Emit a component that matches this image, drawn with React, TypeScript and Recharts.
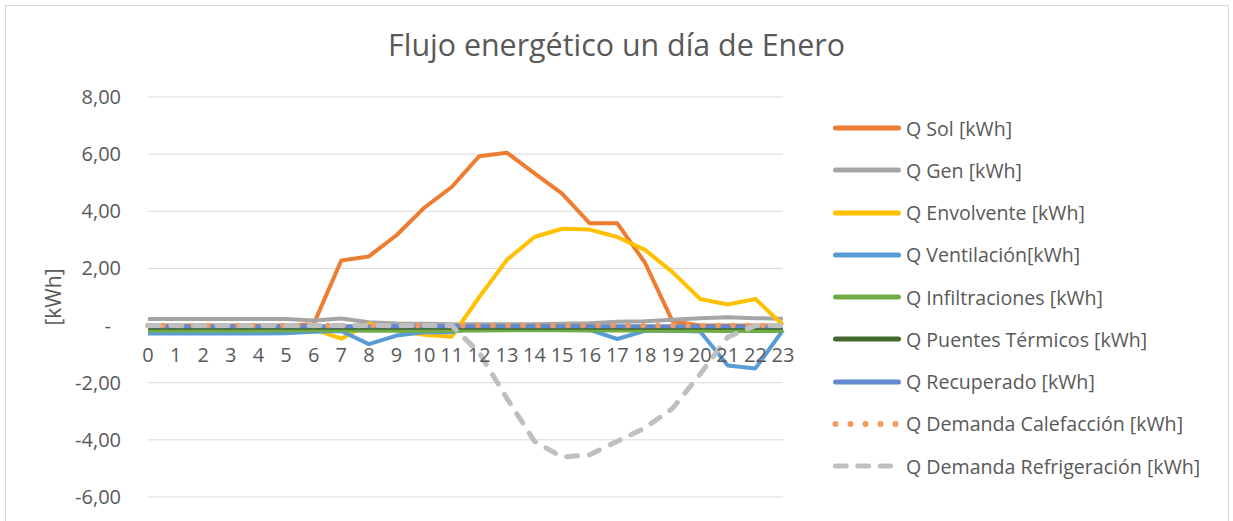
import { LineChart, Line, XAxis, YAxis, CartesianGrid, Legend } from "recharts";

const hours = ["0", "1", "2", "3", "4", "5", "6", "7", "8", "9", "10", "11", "12", "13", "14", "15", "16", "17", "18", "19", "20", "21", "22", "23"];

const qSol = [0, 0, 0, 0, 0, 0, 0.05, 2.28, 2.42, 3.16, 4.12, 4.85, 5.93, 6.05, 5.33, 4.62, 3.58, 3.58, 2.2, 0.15, 0, 0, 0, 0];
const qGen = [0.23, 0.23, 0.23, 0.23, 0.23, 0.23, 0.18, 0.25, 0.12, 0.07, 0.06, 0.05, 0.05, 0.05, 0.05, 0.06, 0.08, 0.13, 0.15, 0.2, 0.26, 0.29, 0.26, 0.24];
const qEnvolvente = [-0.1, -0.1, -0.1, -0.1, -0.1, -0.1, -0.12, -0.46, 0.07, -0.17, -0.32, -0.39, 1.0, 2.3, 3.1, 3.39, 3.36, 3.1, 2.65, 1.87, 0.93, 0.74, 0.93, 0.02];
const qVentilacion = [-0.28, -0.28, -0.28, -0.28, -0.28, -0.27, -0.22, -0.19, -0.65, -0.35, -0.23, -0.23, -0.06, -0.03, -0.03, -0.04, -0.15, -0.47, -0.18, -0.18, -0.21, -1.4, -1.5, -0.16];
const qInfiltraciones = [-0.17, -0.17, -0.17, -0.17, -0.17, -0.17, -0.16, -0.16, -0.18, -0.18, -0.18, -0.18, -0.17, -0.16, -0.16, -0.16, -0.17, -0.17, -0.17, -0.18, -0.18, -0.19, -0.19, -0.19];
const qPuentes = [-0.08, -0.08, -0.08, -0.08, -0.08, -0.08, -0.08, -0.08, -0.08, -0.08, -0.08, -0.08, -0.08, -0.08, -0.08, -0.08, -0.08, -0.08, -0.08, -0.08, -0.08, -0.08, -0.08, -0.08];
const qRecuperado = [-0.02, -0.02, -0.02, -0.02, -0.02, -0.02, -0.02, -0.02, -0.02, -0.02, -0.02, -0.02, -0.02, -0.02, -0.02, -0.02, -0.02, -0.02, -0.02, -0.02, -0.02, -0.02, -0.02, -0.02];
const qCalefaccion = [0, 0, 0, 0, 0, 0, 0, 0, 0, 0, 0, 0, 0, 0, 0, 0, 0, 0, 0, 0, 0, 0, 0, 0];
const qRefrigeracion = [0, 0, 0, 0, 0, 0, 0, 0, 0, 0, 0, 0, -0.95, -2.55, -4.05, -4.6, -4.52, -4.05, -3.58, -2.9, -1.7, -0.4, 0, 0];

const yTicks = [-6, -4, -2, 0, 2, 4, 6, 8];
const Y_MIN = -6;
const Y_MAX = 8;

const series = [
  { key: "sol", name: "Q Sol [kWh]", color: "#ED7D31", values: qSol, style: "solid" },
  { key: "gen", name: "Q Gen [kWh]", color: "#A5A5A5", values: qGen, style: "solid" },
  { key: "env", name: "Q Envolvente [kWh]", color: "#FFC000", values: qEnvolvente, style: "solid" },
  { key: "vent", name: "Q Ventilación[kWh]", color: "#5B9BD5", values: qVentilacion, style: "solid" },
  { key: "inf", name: "Q Infiltraciones [kWh]", color: "#70AD47", values: qInfiltraciones, style: "solid" },
  { key: "pue", name: "Q Puentes Térmicos [kWh]", color: "#43682B", values: qPuentes, style: "solid" },
  { key: "rec", name: "Q Recuperado [kWh]", color: "#6289D0", values: qRecuperado, style: "solid" },
  { key: "cal", name: "Q Demanda Calefacción [kWh]", color: "#F39A5A", values: qCalefaccion, style: "dot" },
  { key: "ref", name: "Q Demanda Refrigeración [kWh]", color: "#BFBFBF", values: qRefrigeracion, style: "dash" },
];

const data = hours.map((h, i) => {
  const row: Record<string, string | number> = { hour: h };
  series.forEach((s) => (row[s.key] = s.values[i]));
  return row;
});

const W = 1233;
const H = 521;
const PLOT_TOP = 97;
const PLOT_BOTTOM = 497;
const PLOT_H = PLOT_BOTTOM - PLOT_TOP;
const FONT = "'Open Sans', sans-serif";
const TEXT = "#595959";

const fmt = (v: number) => (v === 0 ? "-" : v.toFixed(2).replace(".", ","));

const YTick = (props: any) => {
  const { x, y, payload } = props;
  const v = payload.value as number;
  return (
    <text x={v === 0 ? x - 10 : x} y={y} dy={7} textAnchor="end" fill={TEXT} fontSize={20} fontFamily={FONT}>
      {fmt(v)}
    </text>
  );
};

// labels sit just under the zero line, like Excel's axis crossing
const XTick = (props: any) => {
  const { x, y, payload } = props;
  const zeroY = y - ((0 - Y_MIN) / (Y_MAX - Y_MIN)) * PLOT_H;
  return (
    <text x={x} y={zeroY + 36} textAnchor="middle" fill={TEXT} fontSize={20} fontFamily={FONT}>
      {payload.value}
    </text>
  );
};

const LegendSample = ({ color, style }: { color: string; style: string }) => {
  if (style === "dot") {
    return (
      <svg width={77} height={10}>
        <line x1={6.5} y1={5} x2={67} y2={5} stroke={color} strokeWidth={6} strokeLinecap="round" strokeDasharray="0 15" />
      </svg>
    );
  }
  if (style === "dash") {
    return (
      <svg width={77} height={10}>
        <line x1={6.5} y1={5} x2={61.5} y2={5} stroke={color} strokeWidth={5} strokeLinecap="round" strokeDasharray="10.7 11.6" />
      </svg>
    );
  }
  return (
    <svg width={77} height={10}>
      <line x1={6.5} y1={5} x2={69.5} y2={5} stroke={color} strokeWidth={5} strokeLinecap="round" />
    </svg>
  );
};

const renderLegend = () => (
  <div>
    {series.map((s) => (
      <div key={s.key} style={{ display: "flex", alignItems: "center", height: 42.25 }}>
        <LegendSample color={s.color} style={s.style} />
        <span style={{ color: TEXT, fontSize: 19.6, fontFamily: FONT, whiteSpace: "nowrap" }}>{s.name}</span>
      </div>
    ))}
  </div>
);

export default function App() {
  return (
    <div style={{ position: "relative", width: W, height: H, overflow: "hidden", background: "#fff" }}>
      <style>{"body{margin:0}"}</style>
      <div
        style={{
          position: "absolute",
          left: 5,
          top: 5,
          width: 1224,
          height: 600,
          border: "1px solid #D9D9D9",
          boxSizing: "border-box",
        }}
      />
      <div
        style={{
          position: "absolute",
          left: 0,
          top: 25,
          width: W,
          textAlign: "center",
          color: TEXT,
          fontSize: 30.4,
          lineHeight: "40px",
          fontFamily: FONT,
        }}
      >
        Flujo energético un día de Enero
      </div>
      <LineChart width={W} height={H} data={data} margin={{ top: PLOT_TOP, right: 450, bottom: H - PLOT_BOTTOM - 1, left: 0 }}>
        <CartesianGrid horizontal vertical={false} stroke="#D9D9D9" strokeWidth={1} />
        <XAxis
          dataKey="hour"
          height={1}
          interval={0}
          axisLine={false}
          tickLine={false}
          tickSize={0}
          tickMargin={0}
          tick={<XTick />}
        />
        <YAxis
          width={148}
          domain={[Y_MIN, Y_MAX]}
          ticks={yTicks}
          axisLine={false}
          tickLine={false}
          tickSize={0}
          tickMargin={27}
          tick={<YTick />}
          label={{
            content: (p: any) => {
              const vb = p.viewBox;
              const cx = 53;
              const cy = vb.y + vb.height / 2;
              return (
                <text x={cx} y={cy} transform={`rotate(-90 ${cx} ${cy})`} textAnchor="middle" dominantBaseline="central" fill={TEXT} fontSize={21} fontFamily={FONT}>
                  [kWh]
                </text>
              );
            },
          }}
        />
        <Legend
          layout="vertical"
          align="center"
          verticalAlign="middle"
          content={renderLegend}
          wrapperStyle={{ left: 829, top: 107, width: 400 }}
        />
        {series.map((s) => (
          <Line
            key={s.key}
            dataKey={s.key}
            name={s.name}
            type="linear"
            stroke={s.color}
            strokeWidth={s.style === "dot" ? 5.5 : s.style === "dash" ? 5 : 4}
            strokeDasharray={s.style === "dot" ? "0 15" : s.style === "dash" ? "11 12" : undefined}
            strokeLinecap={s.style === "solid" ? "butt" : "round"}
            strokeLinejoin="round"
            dot={false}
            activeDot={false}
            isAnimationActive={false}
          />
        ))}
      </LineChart>
    </div>
  );
}
